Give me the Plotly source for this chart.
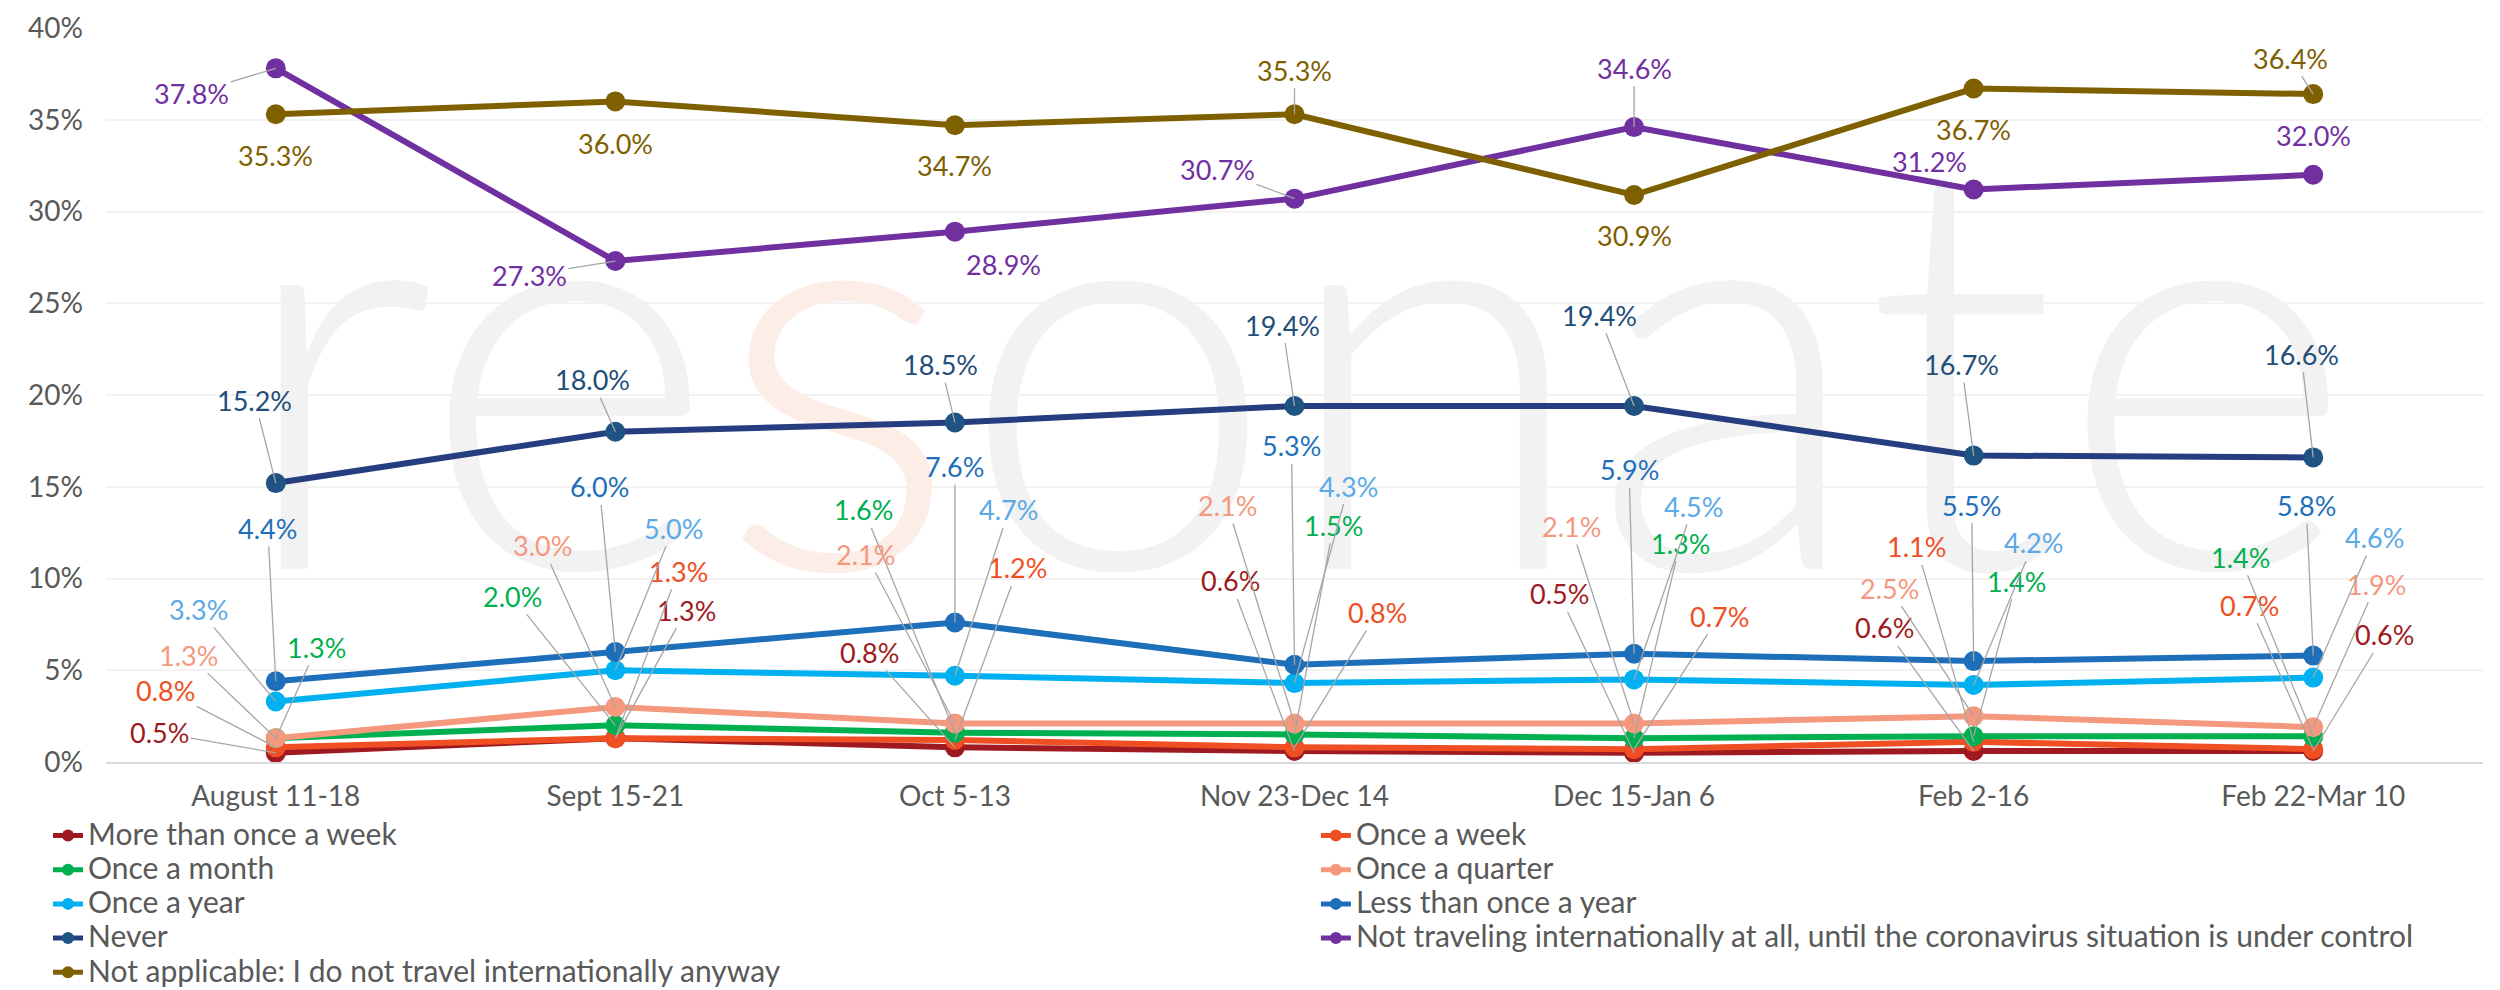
import plotly.graph_objects as go

categories = ["August 11-18", "Sept 15-21", "Oct 5-13", "Nov 23-Dec 14",
              "Dec 15-Jan 6", "Feb 2-16", "Feb 22-Mar 10"]

more_than_once_a_week = [0.5, 1.3, 0.8, 0.6, 0.5, 0.6, 0.6]
once_a_week = [0.8, 1.3, 1.2, 0.8, 0.7, 1.1, 0.7]
once_a_month = [1.3, 2.0, 1.6, 1.5, 1.3, 1.4, 1.4]
once_a_quarter = [1.3, 3.0, 2.1, 2.1, 2.1, 2.5, 1.9]
once_a_year = [3.3, 5.0, 4.7, 4.3, 4.5, 4.2, 4.6]
less_than_once_a_year = [4.4, 6.0, 7.6, 5.3, 5.9, 5.5, 5.8]
never = [15.2, 18.0, 18.5, 19.4, 19.4, 16.7, 16.6]
not_traveling = [37.8, 27.3, 28.9, 30.7, 34.6, 31.2, 32.0]
not_applicable = [35.3, 36.0, 34.7, 35.3, 30.9, 36.7, 36.4]

y_ticks = [0, 5, 10, 15, 20, 25, 30, 35, 40]

series = [
    ("More than once a week", more_than_once_a_week),
    ("Once a week", once_a_week),
    ("Once a month", once_a_month),
    ("Once a quarter", once_a_quarter),
    ("Once a year", once_a_year),
    ("Less than once a year", less_than_once_a_year),
    ("Never", never),
    ("Not traveling internationally at all, until the coronavirus situation is under control", not_traveling),
    ("Not applicable: I do not travel internationally anyway", not_applicable),
]

# styles: line colour, marker colour, label colour, legend column
styles = {
    "More than once a week": ("#9E1A20", "#9E1A20", "#9E1A20", "legend"),
    "Once a week": ("#F04E23", "#F04E23", "#F04E23", "legend2"),
    "Once a month": ("#00B050", "#00B050", "#00B050", "legend"),
    "Once a quarter": ("#F4987E", "#F4987E", "#F4987E", "legend2"),
    "Once a year": ("#00B0F0", "#00B0F0", "#5BA9E6", "legend"),
    "Less than once a year": ("#1E6FBA", "#1E6FBA", "#1E6FBA", "legend2"),
    "Never": ("#263E80", "#1F5482", "#1F4E79", "legend"),
    "Not traveling internationally at all, until the coronavirus situation is under control": ("#7030A0", "#7030A0", "#7030A0", "legend2"),
    "Not applicable: I do not travel internationally anyway": ("#7F6000", "#7F6000", "#7F6000", "legend"),
}

# label placement (pixel offsets from the point: dx, dy, leader line?)
label_offsets = {
    "More than once a week": [(-116, -20, 1), (71, -128, 1), (-85, -95, 1), (-64, -170, 1), (-75, -159, 1), (-89, -123, 1), (71, -116, 1)],
    "Once a week": [(-110, -57, 1), (63, -167, 1), (63, -172, 1), (83, -135, 1), (85, -133, 1), (-57, -195, 1), (-64, -144, 1)],
    "Once a month": [(41, -91, 1), (-103, -129, 1), (-91, -223, 1), (39, -209, 1), (46, -195, 1), (43, -155, 1), (-73, -179, 1)],
    "Once a quarter": [(-87, -83, 1), (-73, -161, 1), (-89, -169, 1), (-67, -218, 1), (-63, -197, 1), (-84, -128, 1), (63, -143, 1)],
    "Once a year": [(-77, -92, 1), (58, -142, 1), (54, -166, 1), (54, -197, 1), (59, -173, 1), (60, -142, 1), (61, -140, 1)],
    "Less than once a year": [(-8, -153, 1), (-16, -165, 1), (0, -156, 1), (-3, -219, 1), (-5, -184, 1), (-2, -156, 1), (-7, -150, 1)],
    "Never": [(-21, -83, 1), (-23, -52, 1), (-14, -58, 1), (-12, -81, 1), (-35, -91, 1), (-12, -91, 1), (-12, -103, 1)],
    "Not traveling internationally at all, until the coronavirus situation is under control": [(-84, 25, 1), (-86, 14, 1), (49, 33, 0), (-77, -29, 1), (0, -59, 1), (-44, -28, 0), (0, -39, 0)],
    "Not applicable: I do not travel internationally anyway": [(0, 41, 0), (0, 42, 0), (0, 40, 0), (0, -44, 1), (0, 41, 0), (0, 41, 0), (-23, -36, 1)],
}

FONT = "Lato"
fig = go.Figure()

# faint watermark behind the lines
fig.add_trace(go.Scatter(
    x=[categories[3]], y=[18.3], mode="text",
    text=['re<span style="color:#FCEDE6">s</span>onate'],
    textfont=dict(family=FONT, size=570, color="#F2F2F2", weight=300),
    showlegend=False, hoverinfo="skip"))

for name, vals in series:
    lc, mc, tc, lg = styles[name]
    fig.add_trace(go.Scatter(
        x=categories, y=vals, mode="lines+markers",
        name=f'<span style="font-size:30px">{name}</span>',
        line=dict(color=lc, width=6),
        marker=dict(color=mc, size=20),
        legend=lg, hoverinfo="skip"))

annotations = []
for name, vals in series:
    tc = styles[name][2]
    for cat, v, (dx, dy, lead) in zip(categories, vals, label_offsets[name]):
        a = dict(x=cat, y=v, xref="x", yref="y", text=f"{v:.1f}%",
                 font=dict(family=FONT, size=27, color=tc))
        if lead:
            a.update(showarrow=True, ax=dx, ay=dy, arrowhead=0, arrowwidth=1.3,
                     arrowcolor="#A6A6A6", standoff=0, startstandoff=0)
        else:
            a.update(showarrow=False, xshift=dx, yshift=-dy)
        annotations.append(a)

legend_common = dict(orientation="v", yanchor="top", xanchor="left",
                     font=dict(family=FONT, size=24, color="#595959"),
                     itemsizing="constant", tracegroupgap=0, traceorder="normal",
                     bgcolor="rgba(0,0,0,0)")

fig.update_layout(
    width=2500, height=990,
    margin=dict(l=98, r=25, t=20, b=236, autoexpand=False),
    paper_bgcolor="white", plot_bgcolor="white",
    font=dict(family=FONT, size=28, color="#595959"),
    annotations=annotations,
    showlegend=True,
    legend=dict(x=-0.0244, y=-0.070, **legend_common),
    legend2=dict(x=0.509, y=-0.070, **legend_common),
    xaxis=dict(type="category", categoryorder="array", categoryarray=categories,
               range=[-0.5, 6.5], showgrid=False,
               showline=True, linecolor="#D9D9D9", linewidth=2,
               tickfont=dict(family=FONT, size=28, color="#595959"),
               ticks="", ticklabelstandoff=8, zeroline=False),
    yaxis=dict(range=[0, 40], tickvals=y_ticks, ticktext=[f"{t}%" for t in y_ticks],
               showgrid=True, gridcolor="#F2F2F2", gridwidth=2, zeroline=False,
               tickfont=dict(family=FONT, size=28, color="#595959"),
               ticks="", ticklabelstandoff=22),
)

fig.write_html("out.html")
